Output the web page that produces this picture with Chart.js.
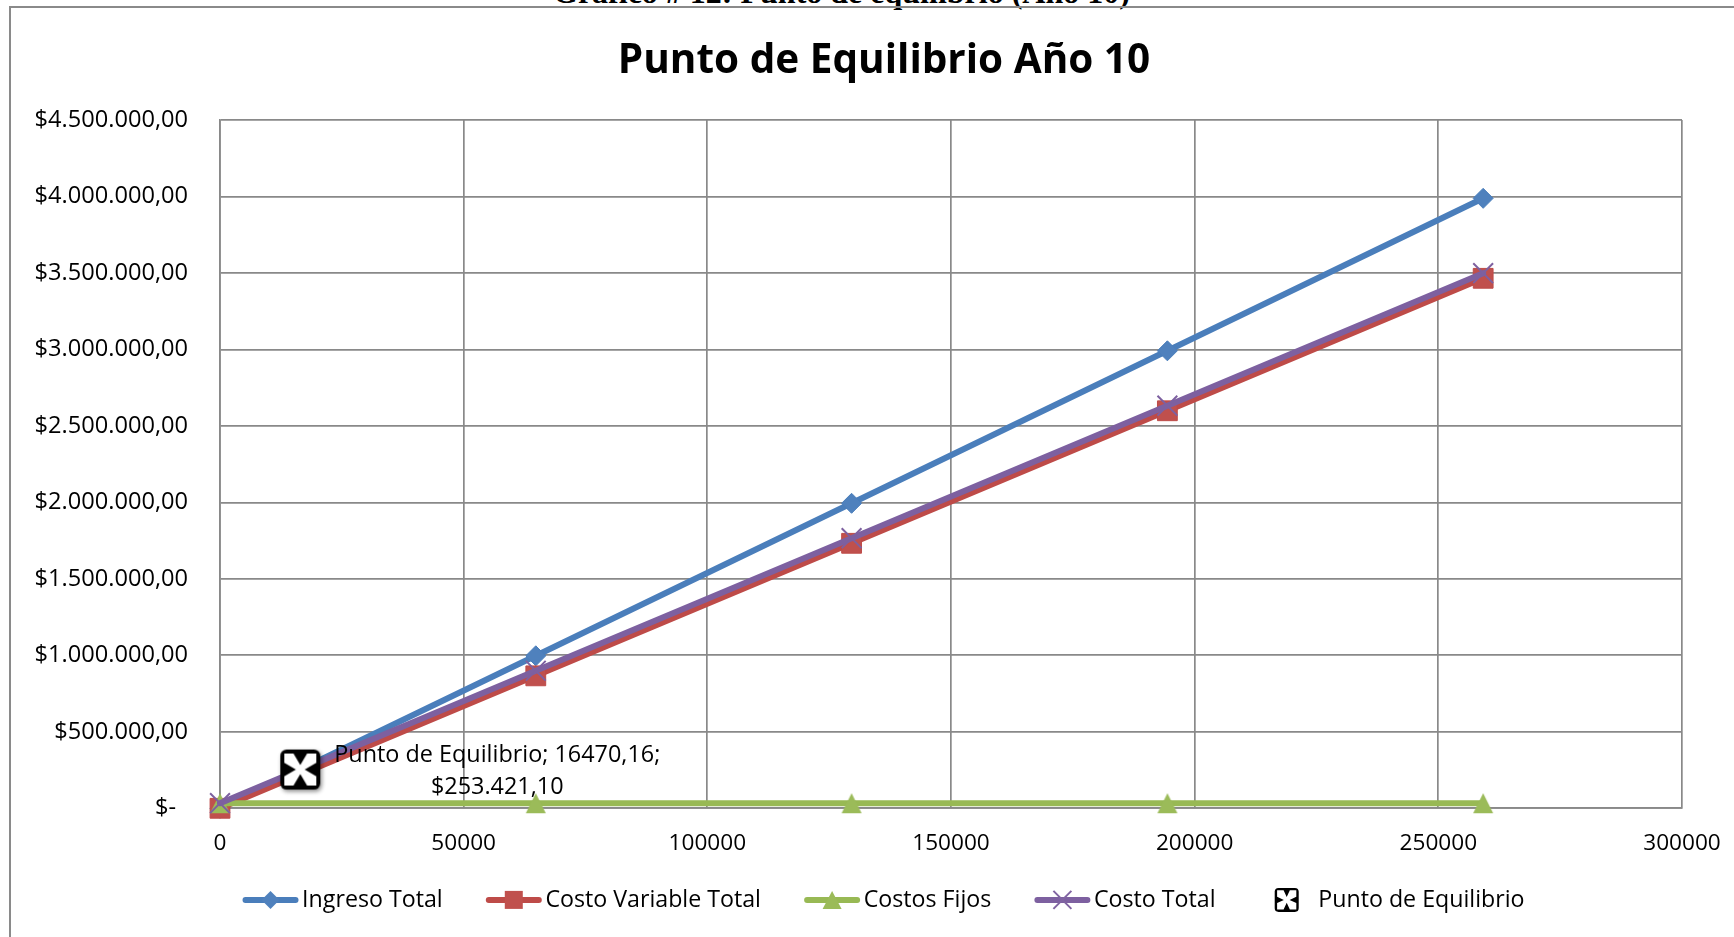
<!DOCTYPE html>
<html lang="es">
<head>
<meta charset="utf-8">
<title>Punto de Equilibrio Año 10</title>
<script src="https://cdn.jsdelivr.net/npm/chart.js@4.4.1/dist/chart.umd.min.js"></script>
<style>
  html, body { margin: 0; padding: 0; background: #fff; width: 1734px; height: 937px; overflow: hidden; }
  #rotulo { position: absolute; left: 553px; top: -24px; font: bold 32px 'Liberation Serif', 'Times New Roman', serif; line-height: 32px; white-space: nowrap; color: #000; }
  #marco { position: absolute; left: 9px; top: 6px; width: 1800px; height: 1000px; border-left: 2px solid #8a8a8a; border-top: 2px solid #8a8a8a; }
  #grafico { position: absolute; left: 12px; top: 9px; }
</style>
</head>
<body>
<div id="rotulo">Gráfico # 12: Punto de equilibrio (Año 10)</div>
<div id="marco"></div>
<canvas id="grafico" width="1744" height="928"></canvas>
<script>
// Unidades producidas y montos de cada serie (año 10)
const unidades = [0, 64800, 129600, 194400, 259200];
const ingresoTotal = [0, 997000, 1994000, 2991000, 3988000];
const costoVariableTotal = [0, 866000, 1732500, 2599000, 3465000];
const costosFijos = [33250, 33250, 33250, 33250, 33250];
const costoTotal = [33250, 899250, 1765750, 2632250, 3498250];

// Punto de equilibrio: unidades y monto
const equilibrioUnidades = [16470.16];
const equilibrioMonto = [253421.10];

const nombresSeries = ['Ingreso Total', 'Costo Variable Total', 'Costos Fijos', 'Costo Total', 'Punto de Equilibrio'];

// Marcas de los ejes
const ticksX = [0, 50000, 100000, 150000, 200000, 250000, 300000];
const etiquetasX = ['0', '50000', '100000', '150000', '200000', '250000', '300000'];
const ticksY = [0, 500000, 1000000, 1500000, 2000000, 2500000, 3000000, 3500000, 4000000, 4500000];
const etiquetasY = ['$-\u2002', '$500.000,00', '$1.000.000,00', '$1.500.000,00', '$2.000.000,00',
                    '$2.500.000,00', '$3.000.000,00', '$3.500.000,00', '$4.000.000,00', '$4.500.000,00'];

const AZUL = '#4A7EBB', ROJO = '#BE4B48', VERDE = '#98B954', MORADO = '#7D60A0';
const GRIS_REJILLA = '#898989';
const FUENTE = "'Open Sans', 'Noto Sans', sans-serif";

function pares(xs, ys) { return xs.map((x, i) => ({ x: x, y: ys[i] })); }

function numeroEs(v, dec, miles) {
  const partes = v.toFixed(dec).split('.');
  const ent = miles ? partes[0].replace(/\B(?=(\d{3})+(?!\d))/g, '.') : partes[0];
  return ent + ',' + partes[1];
}

function rectRedondeado(g, x, y, w, h, r) {
  g.beginPath();
  g.moveTo(x + r, y);
  g.lineTo(x + w - r, y); g.arcTo(x + w, y, x + w, y + r, r);
  g.lineTo(x + w, y + h - r); g.arcTo(x + w, y + h, x + w - r, y + h, r);
  g.lineTo(x + r, y + h); g.arcTo(x, y + h, x, y + h - r, r);
  g.lineTo(x, y + r); g.arcTo(x, y, x + r, y, r);
  g.closePath();
}

// Icono del punto de equilibrio: cuadro negro redondeado con una X blanca
// (n = media abertura de cada muesca, d = profundidad de la muesca, ambas en fracción del lado)
function dibujarIcono(g, s, sombra, fn, fd) {
  g.save();
  if (sombra) {
    g.shadowColor = 'rgba(0,0,0,0.45)';
    g.shadowBlur = 4; g.shadowOffsetX = 1.5; g.shadowOffsetY = 2;
  }
  g.fillStyle = '#000';
  rectRedondeado(g, 0, 0, s, s, s * 0.16);
  g.fill();
  g.restore();
  const i = s * 0.1, n = s * fn, d = s * fd, m = s / 2;
  const P = [[i, i], [m - n, i], [m, i + d], [m + n, i], [s - i, i], [s - i, m - n], [s - i - d, m], [s - i, m + n],
             [s - i, s - i], [m + n, s - i], [m, s - i - d], [m - n, s - i], [i, s - i], [i, m + n], [i + d, m], [i, m - n]];
  g.fillStyle = '#fff';
  g.beginPath();
  P.forEach((p, k) => k ? g.lineTo(p[0], p[1]) : g.moveTo(p[0], p[1]));
  g.closePath();
  g.fill();
}

function lienzoIcono(s) {
  const pad = 7;
  const c = document.createElement('canvas');
  c.width = c.height = s + 2 * pad;
  const g = c.getContext('2d');
  g.translate(pad, pad);
  dibujarIcono(g, s, true, 0.17, 0.29);
  return c;
}

function lienzoTriangulo(w, h, color) {
  const c = document.createElement('canvas');
  c.width = w + 2; c.height = h + 2;
  const g = c.getContext('2d');
  g.fillStyle = color;
  g.beginPath();
  g.moveTo(1 + w / 2, 1); g.lineTo(1 + w, 1 + h); g.lineTo(1, 1 + h);
  g.closePath();
  g.fill();
  return c;
}

// Marcadores para la leyenda
function marcadorLeyenda(ctx, tipo, x, y, color) {
  ctx.save();
  ctx.fillStyle = color; ctx.strokeStyle = color;
  if (tipo === 'diamante') {
    const r = 9;
    ctx.beginPath(); ctx.moveTo(x - r, y); ctx.lineTo(x, y - r); ctx.lineTo(x + r, y); ctx.lineTo(x, y + r); ctx.closePath(); ctx.fill();
  } else if (tipo === 'cuadrado') {
    const r = 9;
    ctx.fillRect(x - r, y - r, 2 * r, 2 * r);
  } else if (tipo === 'triangulo') {
    const w = 19, h = 18;
    ctx.beginPath(); ctx.moveTo(x, y - h / 2); ctx.lineTo(x + w / 2, y + h / 2); ctx.lineTo(x - w / 2, y + h / 2); ctx.closePath(); ctx.fill();
  } else if (tipo === 'equis') {
    const r = 9;
    ctx.lineWidth = 2;
    ctx.beginPath(); ctx.moveTo(x - r, y - r); ctx.lineTo(x + r, y + r); ctx.moveTo(x + r, y - r); ctx.lineTo(x - r, y + r); ctx.stroke();
  } else if (tipo === 'icono') {
    const s = 24;
    ctx.translate(x - s / 2, y - s / 2);
    dibujarIcono(ctx, s, false, 0.13, 0.28);
  }
  ctx.restore();
}

const LARGO_LINEA = 54;
const ESPACIO_LEYENDA = '      ';
const tiposLeyenda = ['diamante', 'cuadrado', 'triangulo', 'equis', 'icono'];

const leyendaConMarcadores = {
  id: 'leyendaConMarcadores',
  afterDraw(chart) {
    const leg = chart.legend;
    if (!leg || !leg.legendHitBoxes) return;
    const ctx = chart.ctx;
    leg.legendItems.forEach((item, i) => {
      const hb = leg.legendHitBoxes[i];
      const ds = chart.data.datasets[item.datasetIndex];
      const yc = hb.top + hb.height / 2;
      const x0 = hb.left;
      ctx.save();
      if (ds.showLine) {
        ctx.strokeStyle = ds.borderColor;
        ctx.lineWidth = 6;
        ctx.lineCap = 'round';
        ctx.beginPath(); ctx.moveTo(x0 + 2, yc); ctx.lineTo(x0 + LARGO_LINEA - 2, yc); ctx.stroke();
      }
      ctx.restore();
      marcadorLeyenda(ctx, tiposLeyenda[item.datasetIndex], x0 + LARGO_LINEA / 2, yc, ds.pointBackgroundColor || ds.borderColor);
    });
  }
};

// Etiqueta de datos del punto de equilibrio
const etiquetaEquilibrio = {
  id: 'etiquetaEquilibrio',
  afterDatasetsDraw(chart) {
    const el = chart.getDatasetMeta(4).data[0];
    if (!el) return;
    const ctx = chart.ctx;
    ctx.save();
    ctx.font = '23.4px ' + FUENTE;
    ctx.fillStyle = '#000';
    ctx.textAlign = 'center';
    ctx.textBaseline = 'middle';
    const linea1 = nombresSeries[4] + '; ' + numeroEs(equilibrioUnidades[0], 2, false) + ';';
    const linea2 = '$' + numeroEs(equilibrioMonto[0], 2, true);
    ctx.fillText(linea1, el.x + 197, el.y - 14);
    ctx.fillText(linea2, el.x + 197, el.y + 18);
    ctx.restore();
  }
};

Chart.defaults.font.family = FUENTE;
Chart.defaults.font.size = 23;
Chart.defaults.color = '#000';

const comun = { showLine: true, borderWidth: 6, clip: false, tension: 0, pointBorderWidth: 1,
                borderJoinStyle: 'round', borderCapStyle: 'round' };

new Chart(document.getElementById('grafico'), {
  type: 'scatter',
  data: {
    datasets: [
      Object.assign({}, comun, { label: nombresSeries[0], data: pares(unidades, ingresoTotal), order: 5,
        borderColor: AZUL, backgroundColor: AZUL, pointBackgroundColor: '#4F81BD', pointBorderColor: AZUL,
        pointStyle: 'rectRot', pointRadius: 10 }),
      Object.assign({}, comun, { label: nombresSeries[1], data: pares(unidades, costoVariableTotal), order: 4,
        borderColor: ROJO, backgroundColor: ROJO, pointBackgroundColor: '#C0504D', pointBorderColor: ROJO,
        pointStyle: 'rect', pointRadius: 14 }),
      Object.assign({}, comun, { label: nombresSeries[2], data: pares(unidades, costosFijos), order: 3,
        borderColor: VERDE, backgroundColor: VERDE, pointBackgroundColor: '#9BBB59', pointBorderColor: VERDE,
        pointStyle: lienzoTriangulo(20, 20, '#9BBB59'), pointRadius: 10 }),
      Object.assign({}, comun, { label: nombresSeries[3], data: pares(unidades, costoTotal), order: 2,
        borderColor: MORADO, backgroundColor: MORADO, pointBackgroundColor: '#8064A2', pointBorderColor: MORADO,
        pointStyle: 'crossRot', pointRadius: 14, pointBorderWidth: 2 }),
      { label: nombresSeries[4], data: pares(equilibrioUnidades, equilibrioMonto), order: 1, showLine: false, clip: false,
        borderColor: '#000', backgroundColor: '#000', pointStyle: lienzoIcono(40), pointRadius: 20 }
    ]
  },
  options: {
    responsive: false,
    animation: false,
    events: [],
    layout: { padding: { left: 0, right: 0, top: 0, bottom: 15.5 } },
    scales: {
      x: {
        type: 'linear', min: 0, max: 300000,
        afterBuildTicks: (s) => { s.ticks = ticksX.map(v => ({ value: v })); },
        afterFit: (s) => { s.height = 72; },
        ticks: { padding: 22, maxRotation: 0, autoSkip: false, font: { size: 22.6 },
                 callback: (v) => { const k = ticksX.indexOf(v); return k >= 0 ? etiquetasX[k] : ''; } },
        grid: { color: GRIS_REJILLA, lineWidth: 1.7, drawTicks: false },
        border: { color: GRIS_REJILLA, width: 1.7 }
      },
      y: {
        type: 'linear', min: 0, max: 4500000,
        afterBuildTicks: (s) => { s.ticks = ticksY.map(v => ({ value: v })); },
        afterFit: (s) => { s.width = 208; },
        ticks: { padding: 32, autoSkip: false, font: { size: 23.6 },
                 callback: (v) => { const k = ticksY.indexOf(v); return k >= 0 ? etiquetasY[k] : ''; } },
        grid: { color: GRIS_REJILLA, lineWidth: 1.7, drawTicks: false },
        border: { color: GRIS_REJILLA, width: 1.7 }
      },
      margenDerecho: {
        type: 'linear', position: 'right', display: true,
        afterFit: (s) => { s.width = 74; },
        ticks: { display: false }, grid: { display: false, drawTicks: false }, border: { display: false }
      }
    },
    plugins: {
      title: { display: true, text: 'Punto de Equilibrio Año 10', color: '#000',
               font: { size: 40.5, weight: 'bold' }, padding: { top: 28.2, bottom: 34.2 } },
      legend: {
        position: 'bottom', align: 'center',
        labels: {
          boxWidth: 47, boxHeight: 6, padding: 8, color: '#000', font: { size: 23.2 },
          sort: (a, b) => a.datasetIndex - b.datasetIndex,
          generateLabels: (chart) => {
            const items = Chart.defaults.plugins.legend.labels.generateLabels(chart);
            return items.map(it => Object.assign(it, {
              text: it.datasetIndex < nombresSeries.length - 1 ? it.text + ESPACIO_LEYENDA : it.text,
              fillStyle: 'rgba(0,0,0,0)', strokeStyle: 'rgba(0,0,0,0)', lineWidth: 0 }));
          }
        }
      },
      tooltip: { enabled: false }
    }
  },
  plugins: [leyendaConMarcadores, etiquetaEquilibrio]
});
</script>
</body>
</html>
